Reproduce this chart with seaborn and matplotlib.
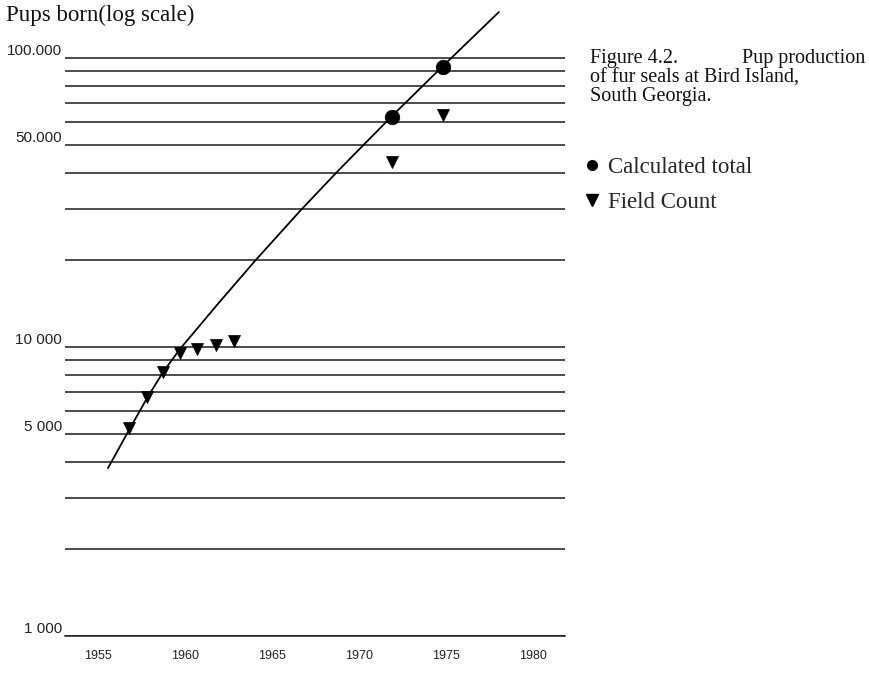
import numpy as np
import pandas as pd
import matplotlib
matplotlib.use("Agg")
import matplotlib.pyplot as plt
from matplotlib.ticker import FixedLocator, FixedFormatter, NullFormatter
from matplotlib.lines import Line2D
import seaborn as sns

# ---- data ----
field_years = [1956.8, 1957.8, 1958.75, 1959.71, 1960.71, 1961.78, 1962.83, 1971.88, 1974.84]
field_counts = [5230, 6700, 8210, 9510, 9820, 10160, 10520, 43550, 63500]

calc_years = [1971.9, 1974.83]
calc_totals = [62500, 93100]

curve_years = [1955.57, 1956.78, 1957.82, 1958.74, 1959.71, 1961.84, 1964.02,
               1966.61, 1968.79, 1971.9, 1974.83, 1978.05]
curve_values = [3810, 5160, 6660, 8190, 9840, 13980, 19850,
                29550, 40640, 63000, 93800, 144300]

year_ticks = [1955, 1960, 1965, 1970, 1975, 1980]
y_major = [1000, 5000, 10000, 50000, 100000]
y_major_labels = ["1 000", "5 000", "10 000", "50.000", "100.000"]
y_minor = [2000, 3000, 4000, 6000, 7000, 8000, 9000,
           20000, 30000, 40000, 60000, 70000, 80000, 90000]

title = "Pups born(log scale)"
caption_a = "Figure 4.2."
caption_b = "Pup production"
caption_rest = "of fur seals at Bird Island,\nSouth Georgia."
legend_labels = ["Calculated total", "Field Count"]

# ---- figure ----
sns.set_style("white")
plt.rcParams["font.family"] = ["Liberation Sans", "DejaVu Sans"]

W, H = 869, 674
fig = plt.figure(figsize=(W / 100, H / 100), dpi=100)
ax = fig.add_axes([65 / W, 1 - 636 / H, 500 / W, (636 - 5) / H])

curve_df = pd.DataFrame({"year": curve_years, "pups": curve_values})
field_df = pd.DataFrame({"year": field_years, "pups": field_counts})
calc_df = pd.DataFrame({"year": calc_years, "pups": calc_totals})

sns.lineplot(data=curve_df, x="year", y="pups", ax=ax, color="black", lw=1.3,
             sort=True, estimator=None)
sns.scatterplot(data=field_df, x="year", y="pups", ax=ax, marker="v", color="black",
                s=75, edgecolor="black", linewidth=0.5, zorder=3)
sns.scatterplot(data=calc_df, x="year", y="pups", ax=ax, marker="o", color="black",
                s=110, edgecolor="black", linewidth=0.5, zorder=3)

ax.set_yscale("log")
ax.set_xlim(1953.1, 1981.85)
ax.set_ylim(1000, 152600)

ax.yaxis.set_major_locator(FixedLocator(y_major))
ax.yaxis.set_major_formatter(FixedFormatter(y_major_labels))
ax.yaxis.set_minor_locator(FixedLocator(y_minor))
ax.yaxis.set_minor_formatter(NullFormatter())
ax.grid(True, axis="y", which="both", color="#1a1a1a", lw=1.1)
ax.grid(False, axis="x")
ax.tick_params(axis="y", which="both", length=0, pad=2, labelsize=11, labelcolor="#222222")
for lab in ax.get_yticklabels():
    lab.set_verticalalignment("bottom")

ax.set_xticks(year_ticks)
ax.set_xticklabels([str(y) for y in year_ticks])
ax.tick_params(axis="x", length=3, width=0.8, direction="out", pad=7,
               labelsize=9, labelcolor="#222222", color="#333333")

for s in ["top", "right", "left"]:
    ax.spines[s].set_visible(False)
ax.spines["bottom"].set_color("#1a1a1a")
ax.spines["bottom"].set_linewidth(1.1)
ax.set_xlabel("")
ax.set_ylabel("")

serif = ["Liberation Serif", "DejaVu Serif"]
fig.text(6 / W, 1 - 15 / H, title, family=serif, fontsize=16.5, va="center", ha="left",
         color="#111111")
fig.text(590 / W, 1 - 59 / H, caption_a, family=serif, fontsize=14.5, va="center",
         ha="left", color="#111111")
fig.text(865 / W, 1 - 59 / H, caption_b, family=serif, fontsize=14.5, va="center",
         ha="right", color="#111111")
fig.text(590 / W, 1 - 69 / H, caption_rest, family=serif, fontsize=14.5, va="top",
         ha="left", color="#111111", linespacing=0.95)

handles = [Line2D([], [], marker="o", color="black", ls="none", markersize=7),
           Line2D([], [], marker="v", color="black", ls="none", markersize=8.5)]
fig.legend(handles, legend_labels, loc="upper left",
           bbox_to_anchor=(585 / W, 1 - 157 / H), frameon=False,
           prop={"family": serif, "size": 16.5}, handlelength=0.6, handletextpad=0.4,
           labelspacing=0.6, borderaxespad=0, borderpad=0)

fig.savefig("out.png", dpi=100, facecolor="white")
